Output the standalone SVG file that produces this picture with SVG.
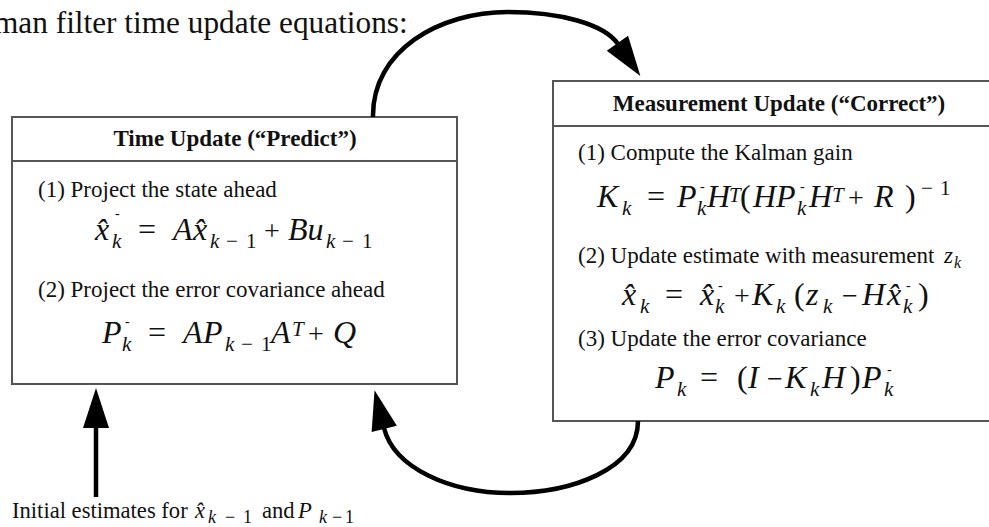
<svg xmlns="http://www.w3.org/2000/svg" width="989" height="527" viewBox="0 0 989 527">
<style>
.t{font-family:"Liberation Serif","Times New Roman",serif;fill:#111}
.h{font-size:23px;font-weight:bold}
.b{font-size:23px}
.m{font-size:32px;font-style:italic}
.u{font-style:normal}
.p{font-style:normal;font-size:28px}
.s{font-size:21px;font-style:italic}
.so{font-size:21px;font-style:normal}
.d{font-size:14px;font-style:normal}
.box{fill:#fff;stroke:#555;stroke-width:2}
.arc{fill:none;stroke:#000;stroke-width:4.5}
</style>
<defs>
<marker id="ah" markerUnits="userSpaceOnUse" markerWidth="42" markerHeight="28" refX="1" refY="13" orient="auto" overflow="visible">
<path d="M0,0 L40,13 L0,26 Z" fill="#000"/>
</marker>
</defs>
<text class="t" x="-6" y="33" font-size="31.3">man filter time update equations:</text>

<g id="time-update">
<rect class="box" x="12" y="117" width="445" height="267"/>
<line class="box" x1="12" y1="161" x2="457" y2="161"/>
<text class="t h" x="235" y="146" text-anchor="middle">Time Update (“Predict”)</text>
<text class="t b" x="38" y="197">(1) Project the state ahead</text>
<text class="t m" y="240"><tspan x="95">x̂</tspan><tspan class="s" x="112" y="248">k</tspan><tspan class="d" x="115" y="218">-</tspan><tspan class="u" x="138" y="240">=</tspan><tspan x="173">A</tspan><tspan x="193">x̂</tspan><tspan class="s" x="210" y="248">k</tspan><tspan class="so" x="226">−</tspan><tspan class="so" x="246">1</tspan><tspan class="p" x="264" y="240">+</tspan><tspan x="288">Bu</tspan><tspan class="s" x="326" y="248">k</tspan><tspan class="so" x="342">−</tspan><tspan class="so" x="362">1</tspan></text>
<text class="t b" x="38" y="297">(2) Project the error covariance ahead</text>
<text class="t m" y="343"><tspan x="102">P</tspan><tspan class="s" x="122" y="351">k</tspan><tspan class="d" x="125" y="326">-</tspan><tspan class="u" x="148" y="343">=</tspan><tspan x="183">A</tspan><tspan x="203">P</tspan><tspan class="s" x="225" y="351">k</tspan><tspan class="so" x="241">−</tspan><tspan class="so" x="261">1</tspan><tspan x="271" y="343">A</tspan><tspan class="s" x="292" y="336">T</tspan><tspan class="p" x="308" y="343">+</tspan><tspan x="333">Q</tspan></text>
</g>

<g id="measurement-update">
<rect class="box" x="553" y="81" width="450" height="340"/>
<line class="box" x1="553" y1="126" x2="1003" y2="126"/>
<text class="t h" x="779" y="111" text-anchor="middle">Measurement Update (“Correct”)</text>
<text class="t b" x="578" y="160">(1) Compute the Kalman gain</text>
<text class="t m" y="207"><tspan x="597">K</tspan><tspan class="s" x="622" y="215">k</tspan><tspan class="u" x="647" y="207">=</tspan><tspan x="677">P</tspan><tspan class="s" x="697" y="215">k</tspan><tspan class="d" x="700" y="191">-</tspan><tspan x="707" y="207">H</tspan><tspan class="s" x="729" y="202">T</tspan><tspan class="u" x="740" y="207">(</tspan><tspan x="753">H</tspan><tspan x="776">P</tspan><tspan class="s" x="797" y="215">k</tspan><tspan class="d" x="800" y="191">-</tspan><tspan x="809" y="207">H</tspan><tspan class="s" x="832" y="202">T</tspan><tspan class="p" x="848" y="207">+</tspan><tspan x="874">R</tspan><tspan class="u" x="905">)</tspan><tspan class="so" x="921" y="195">−</tspan><tspan class="so" x="940">1</tspan></text>
<text class="t b" x="578" y="263">(2) Update estimate with measurement <tspan x="944" font-style="italic">z</tspan><tspan x="954" y="268" font-size="16" font-style="italic">k</tspan></text>
<text class="t m" y="305"><tspan x="622">x̂</tspan><tspan class="s" x="640" y="313">k</tspan><tspan class="u" x="665" y="305">=</tspan><tspan x="700">x̂</tspan><tspan class="s" x="715" y="313">k</tspan><tspan class="d" x="718" y="290">-</tspan><tspan class="p" x="734" y="305">+</tspan><tspan x="752">K</tspan><tspan class="s" x="776" y="313">k</tspan><tspan class="u" x="794" y="305">(</tspan><tspan x="806">z</tspan><tspan class="s" x="823" y="313">k</tspan><tspan class="p" x="842" y="305">−</tspan><tspan x="862">H</tspan><tspan x="887">x̂</tspan><tspan class="s" x="903" y="313">k</tspan><tspan class="d" x="906" y="290">-</tspan><tspan class="u" x="918" y="305">)</tspan></text>
<text class="t b" x="578" y="346">(3) Update the error covariance</text>
<text class="t m" y="388"><tspan x="655">P</tspan><tspan class="s" x="677" y="396">k</tspan><tspan class="u" x="700" y="388">=</tspan><tspan class="u" x="737">(</tspan><tspan x="748">I</tspan><tspan class="p" x="767">−</tspan><tspan x="785">K</tspan><tspan class="s" x="810" y="396">k</tspan><tspan x="822" y="388">H</tspan><tspan class="u" x="850">)</tspan><tspan x="862">P</tspan><tspan class="s" x="884" y="396">k</tspan><tspan class="d" x="887" y="374">-</tspan></text>
</g>

<g id="initial-estimates">
<text class="t" y="518" font-size="22.6"><tspan x="12">Initial estimates for</tspan><tspan x="195" font-style="italic">x̂</tspan><tspan x="208" y="523" font-size="18" font-style="italic">k</tspan><tspan x="225" font-size="18">−</tspan><tspan x="243" font-size="18">1</tspan><tspan x="262" y="518">and</tspan><tspan x="298" font-style="italic">P</tspan><tspan x="319" y="523" font-size="18" font-style="italic">k</tspan><tspan x="332" font-size="18">−</tspan><tspan x="345" font-size="18">1</tspan></text>
</g>

<g id="connectors">
<path class="arc" d="M373,117 C372,50 440,12 508,12 C560,12 604,24 618,44" marker-end="url(#ah)"/>
<path class="arc" d="M638,421 C638,470 570,493 510,493 C450,493 394,468 384,428" marker-end="url(#ah)"/>
<path class="arc" d="M96,497 L96,427" marker-end="url(#ah)"/>
</g>
</svg>
